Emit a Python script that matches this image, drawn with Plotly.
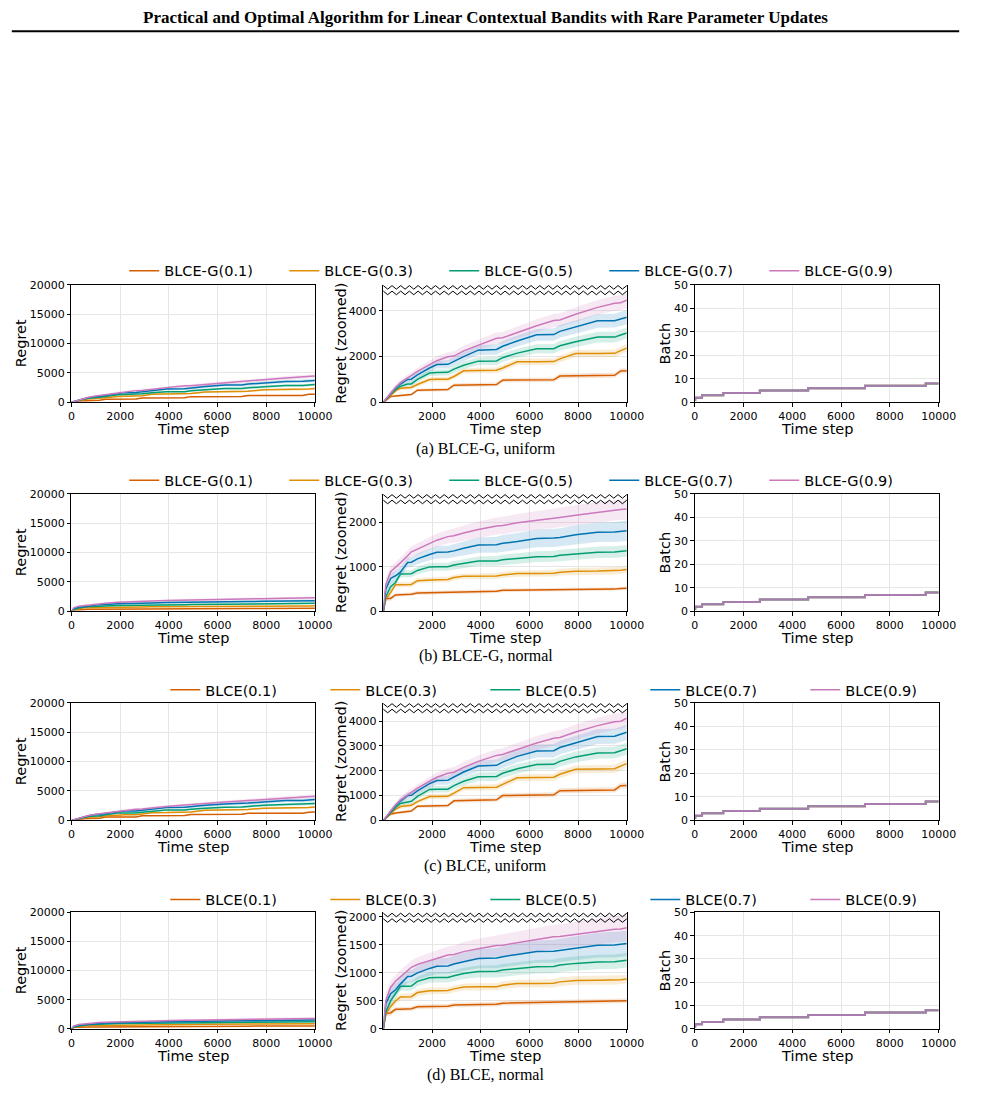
import plotly.graph_objects as go

W, H = 985, 1116

# ---------------- data ----------------
T = [0, 100, 300, 500, 700, 1000, 1150, 1400, 1900, 2200, 2650, 2900, 3300,
     3900, 4650, 4900, 5500, 6300, 7000, 7250, 7900, 8800, 9500, 9750, 10000]

PARAMS = ["0.1", "0.3", "0.5", "0.7", "0.9"]
COLORS = ["#d55e00", "#de8f05", "#029e73", "#0173b2", "#cc78bc"]

# (a) BLCE-G, uniform
REGRET_A = [
    [0, 90, 250, 280, 300, 320, 340, 530, 540, 545, 560, 750, 755, 765, 780, 970, 975, 980, 985, 1150, 1155, 1165, 1180, 1370, 1375],
    [0, 100, 300, 500, 620, 635, 650, 780, 1000, 1005, 1010, 1130, 1380, 1390, 1400, 1500, 1770, 1775, 1780, 1900, 2130, 2135, 2140, 2260, 2370],
    [0, 120, 350, 550, 700, 800, 805, 1000, 1280, 1300, 1310, 1450, 1620, 1800, 1810, 1950, 2150, 2340, 2340, 2470, 2650, 2850, 2850, 2940, 3030],
    [0, 130, 400, 620, 800, 1000, 1010, 1200, 1500, 1650, 1660, 1800, 2000, 2280, 2310, 2450, 2680, 2950, 2960, 3100, 3300, 3560, 3570, 3650, 3720],
    [0, 140, 420, 650, 850, 1080, 1160, 1350, 1650, 1820, 1990, 2020, 2250, 2500, 2800, 2820, 3050, 3350, 3580, 3600, 3850, 4150, 4330, 4350, 4460],
]
# (b) BLCE-G, normal
REGRET_B = [
    [0, 290, 290, 370, 375, 380, 385, 415, 420, 420, 425, 440, 445, 448, 452, 472, 475, 478, 480, 495, 497, 499, 500, 515, 520],
    [0, 280, 420, 600, 600, 605, 605, 690, 710, 712, 715, 760, 790, 792, 795, 820, 850, 852, 855, 880, 900, 905, 910, 925, 940],
    [0, 330, 555, 650, 840, 845, 848, 920, 1000, 1002, 1005, 1040, 1080, 1130, 1135, 1160, 1190, 1230, 1235, 1260, 1290, 1330, 1335, 1348, 1360],
    [0, 500, 740, 800, 880, 1100, 1105, 1180, 1280, 1330, 1335, 1360, 1420, 1490, 1500, 1530, 1570, 1640, 1650, 1660, 1720, 1780, 1785, 1795, 1810],
    [0, 600, 890, 980, 1090, 1250, 1340, 1400, 1530, 1600, 1680, 1700, 1760, 1840, 1920, 1930, 1990, 2040, 2100, 2110, 2160, 2230, 2280, 2290, 2300],
]
# (c) BLCE, uniform
REGRET_C = [
    [0, 80, 250, 300, 320, 350, 380, 570, 580, 590, 600, 790, 800, 810, 830, 1000, 1010, 1020, 1030, 1200, 1210, 1220, 1230, 1400, 1410],
    [0, 90, 280, 450, 560, 600, 610, 760, 960, 965, 970, 1100, 1320, 1330, 1340, 1450, 1720, 1730, 1740, 1860, 2060, 2070, 2080, 2190, 2290],
    [0, 110, 330, 520, 680, 760, 770, 970, 1250, 1255, 1260, 1400, 1580, 1760, 1770, 1900, 2080, 2250, 2260, 2380, 2560, 2720, 2730, 2810, 2890],
    [0, 120, 380, 590, 780, 1000, 1010, 1190, 1480, 1610, 1620, 1750, 1950, 2190, 2220, 2350, 2580, 2800, 2810, 2940, 3130, 3380, 3390, 3470, 3550],
    [0, 130, 400, 620, 820, 1050, 1130, 1300, 1580, 1740, 1900, 1940, 2140, 2380, 2620, 2660, 2860, 3120, 3310, 3340, 3560, 3820, 3980, 4000, 4120],
]
# (d) BLCE, normal
REGRET_D = [
    [0, 280, 285, 350, 352, 355, 360, 395, 400, 402, 405, 428, 432, 436, 440, 460, 465, 468, 470, 483, 485, 488, 490, 500, 505],
    [0, 270, 400, 500, 570, 572, 575, 650, 680, 682, 685, 715, 750, 752, 755, 780, 810, 812, 815, 840, 865, 868, 870, 880, 890],
    [0, 300, 500, 620, 760, 762, 765, 850, 915, 918, 920, 950, 990, 1025, 1028, 1050, 1075, 1110, 1115, 1140, 1170, 1195, 1200, 1212, 1225],
    [0, 450, 630, 700, 800, 935, 940, 1000, 1080, 1120, 1125, 1160, 1200, 1255, 1265, 1290, 1330, 1380, 1385, 1400, 1440, 1495, 1500, 1512, 1525],
    [0, 500, 745, 850, 930, 1040, 1100, 1150, 1220, 1260, 1320, 1330, 1380, 1430, 1490, 1495, 1540, 1600, 1645, 1650, 1690, 1740, 1780, 1785, 1805],
]

SD_UNIFORM = [
    [0, 20, 40, 50, 55, 60, 60, 65, 70, 70, 75, 80, 80, 85, 90, 95, 95, 100, 100, 105, 105, 110, 110, 115, 120],
    [0, 30, 60, 70, 80, 85, 85, 90, 100, 100, 105, 110, 115, 120, 125, 130, 135, 140, 145, 150, 155, 160, 165, 170, 175],
    [0, 40, 80, 90, 100, 110, 110, 120, 130, 135, 140, 150, 160, 170, 180, 185, 190, 200, 205, 210, 220, 230, 235, 240, 245],
    [0, 50, 90, 110, 120, 130, 130, 140, 160, 170, 180, 190, 200, 215, 230, 235, 245, 260, 270, 275, 285, 300, 305, 310, 315],
    [0, 60, 100, 120, 130, 140, 145, 160, 180, 190, 200, 210, 220, 235, 250, 255, 265, 280, 290, 295, 305, 320, 325, 330, 335],
]
SD_NORMAL = [
    [0, 60, 50, 40, 40, 40, 40, 40, 40, 40, 40, 40, 40, 40, 40, 40, 40, 40, 40, 40, 40, 40, 40, 40, 40],
    [0, 80, 70, 60, 60, 60, 60, 60, 60, 60, 60, 60, 62, 64, 66, 68, 70, 72, 74, 76, 78, 80, 80, 80, 80],
    [0, 100, 90, 80, 80, 80, 80, 85, 90, 90, 90, 95, 100, 105, 110, 112, 115, 120, 122, 124, 126, 128, 130, 130, 130],
    [0, 130, 120, 110, 110, 110, 110, 120, 130, 140, 140, 150, 160, 170, 180, 185, 190, 200, 205, 210, 215, 220, 225, 225, 230],
    [0, 140, 130, 120, 120, 120, 120, 130, 140, 150, 150, 160, 170, 180, 190, 195, 200, 210, 215, 220, 225, 230, 235, 235, 240],
]

BATCH_T = [0, 20, 300, 1170, 2670, 4650, 6980, 9470, 10000]
BATCH_N = [1, 2, 3, 4, 5, 6, 7, 8, 8]

ROW_ALGO = ["BLCE-G", "BLCE-G", "BLCE", "BLCE"]
CAPTIONS = ["(a) BLCE-G, uniform", "(b) BLCE-G, normal", "(c) BLCE, uniform", "(d) BLCE, normal"]
ZOOM_TOP = [5140, 2644, 4741, 2081]
ZOOM_TICKS = [[0, 2000, 4000], [0, 1000, 2000], [0, 1000, 2000, 3000, 4000], [0, 500, 1000, 1500, 2000]]
X_TICKS = [0, 2000, 4000, 6000, 8000, 10000]
LEFT_TICKS = [0, 5000, 10000, 15000, 20000]
BATCH_TICKS = [0, 10, 20, 30, 40, 50]

REGRETS = [REGRET_A, REGRET_B, REGRET_C, REGRET_D]
SDS = [SD_UNIFORM, SD_NORMAL, SD_UNIFORM, SD_NORMAL]

# ---------------- layout geometry (pixels) ----------------
COL_X = [(69, 318), (388, 637), (706.5, 956)]
ROW_Y = [(282, 401), (493.5, 612.5), (705, 824), (917, 1035)]
LEGEND_Y = [268, 480, 692, 904]
LEGEND_X = [123, 123, 165, 165]
CAPTION_Y = [448, 658, 870, 1082]
BATCH_OPACITY = [0.45, 0.45, 0.45, 0.5, 0.75]

SANS = "DejaVu Sans"
SERIF = "Liberation Serif"


def px(x):
    return x / W


def py(y):
    return 1 - y / H


def rgba(hexc, a):
    h = hexc.lstrip("#")
    return "rgba(%d,%d,%d,%.3f)" % (int(h[0:2], 16), int(h[2:4], 16), int(h[4:6], 16), a)


fig = go.Figure()
layout = dict(
    width=W, height=H, autosize=False, margin=dict(l=0, r=0, t=0, b=0, pad=0),
    paper_bgcolor="white", plot_bgcolor="white",
    font=dict(family=SANS, color="black"),
    showlegend=True,
)
annotations = []
shapes = []

for r in range(4):
    data = REGRETS[r]
    sd = SDS[r]
    legname = "legend" if r == 0 else "legend%d" % (r + 1)
    layout[legname] = dict(
        orientation="h", x=px(LEGEND_X[r]), y=py(LEGEND_Y[r]),
        xanchor="left", yanchor="middle", entrywidth=115, entrywidthmode="pixels",
        font=dict(family=SANS, size=14.5, color="black"), bgcolor="rgba(0,0,0,0)",
        borderwidth=0, itemwidth=30, tracegroupgap=0,
    )
    for c in range(3):
        n = r * 3 + c + 1
        xa = "x" if n == 1 else "x%d" % n
        ya = "y" if n == 1 else "y%d" % n
        if c < 2:
            for i in range(5):
                y = data[i]
                s = sd[i]
                up = [a + b for a, b in zip(y, s)]
                lo = [a - b for a, b in zip(y, s)]
                fig.add_trace(go.Scatter(
                    x=T + T[::-1], y=up + lo[::-1], xaxis=xa, yaxis=ya,
                    fill="toself", fillcolor=rgba(COLORS[i], 0.16),
                    line=dict(width=0), mode="lines", hoverinfo="skip", showlegend=False))
            for i in range(5):
                fig.add_trace(go.Scatter(
                    x=T, y=data[i], xaxis=xa, yaxis=ya, mode="lines",
                    line=dict(color=COLORS[i], width=1.5),
                    name="%s(%s)" % (ROW_ALGO[r], PARAMS[i]),
                    legend=legname, showlegend=(c == 1)))
        else:
            for i in range(5):
                fig.add_trace(go.Scatter(
                    x=BATCH_T, y=BATCH_N, xaxis=xa, yaxis=ya, mode="lines",
                    line=dict(color=COLORS[i], width=2, shape="hv"), opacity=BATCH_OPACITY[i],
                    showlegend=False))

        x0, x1 = COL_X[c]
        y0, y1 = ROW_Y[r]
        xkey = "xaxis" if n == 1 else "xaxis%d" % n
        ykey = "yaxis" if n == 1 else "yaxis%d" % n
        common = dict(showline=True, linecolor="black", linewidth=1,
                      showgrid=True, gridcolor="#e6e6e6", gridwidth=1,
                      ticks="outside", ticklen=3.5, tickwidth=1, tickcolor="black",
                      tickfont=dict(family=SANS, size=11, color="black"),
                      zeroline=False, fixedrange=True)
        if c == 1:
            xt = X_TICKS[1:]
            yr = [0, ZOOM_TOP[r]]
            yt = ZOOM_TICKS[r]
        elif c == 0:
            xt = X_TICKS
            yr = [0, 20000]
            yt = LEFT_TICKS
        else:
            xt = X_TICKS
            yr = [0, 50]
            yt = BATCH_TICKS
        layout[xkey] = dict(common, domain=[px(x0), px(x1)], range=[0, 10000],
                            tickmode="array", tickvals=xt, ticktext=[str(v) for v in xt],
                            anchor=ya, mirror=(c != 1))
        layout[ykey] = dict(common, domain=[py(y1), py(y0)], range=yr,
                            tickmode="array", tickvals=yt, ticktext=[str(v) for v in yt],
                            anchor=xa, mirror=True)

        # axis titles
        annotations.append(dict(text="Time step", x=px((x0 + x1) / 2), y=py(y1 + 27),
                                xref="paper", yref="paper", showarrow=False,
                                font=dict(family=SANS, size=14.5, color="black"),
                                xanchor="center", yanchor="middle"))
        ytitle = ["Regret", "Regret (zoomed)", "Batch"][c]
        ytx = [17, 344, 676][c]
        annotations.append(dict(text=ytitle, x=px(ytx), y=py((y0 + y1) / 2),
                                xref="paper", yref="paper", showarrow=False, textangle=-90,
                                font=dict(family=SANS, size=14.5, color="black"),
                                xanchor="center", yanchor="middle"))

        if c == 1:
            # broken-axis zigzag marks at top of zoomed panel
            shapes.append(dict(type="rect", xref="paper", yref="paper",
                               x0=px(x0 + 0.5), x1=px(x1 - 0.5), y0=py(y0 + 8.5), y1=py(y0),
                               fillcolor="white", line=dict(width=0), layer="between"))
            ncyc = 28
            for yc in (y0 + 2.7, y0 + 8.3):
                pts = []
                for k in range(2 * ncyc + 1):
                    xx = x0 + (x1 - x0) * k / (2 * ncyc)
                    yy = yc + (-1.8 if k % 2 == 0 else 1.8)
                    pts.append("%s%.5f,%.5f" % ("M" if k == 0 else "L", px(xx), py(yy)))
                shapes.append(dict(type="path", xref="paper", yref="paper",
                                   path=" ".join(pts), line=dict(color="black", width=1)))

    annotations.append(dict(text=CAPTIONS[r], x=px(492.5), y=py(CAPTION_Y[r]),
                            xref="paper", yref="paper", showarrow=False,
                            font=dict(family=SERIF, size=16, color="black"),
                            xanchor="center", yanchor="middle"))

# page header
annotations.append(dict(text="<b>Practical and Optimal Algorithm for Linear Contextual Bandits with Rare Parameter Updates</b>",
                        x=px(492.5), y=py(12), xref="paper", yref="paper", showarrow=False,
                        font=dict(family=SERIF, size=17, color="black"),
                        xanchor="center", yanchor="middle"))
shapes.append(dict(type="line", xref="paper", yref="paper", x0=px(8), x1=px(977),
                   y0=py(25.5), y1=py(25.5), line=dict(color="black", width=2)))

layout["annotations"] = annotations
layout["shapes"] = shapes
fig.update_layout(**layout)

PAGE_JS = ("document.documentElement.style.margin='0';document.documentElement.style.padding='0';"
           "document.documentElement.style.overflow='hidden';"
           "document.body.style.margin='0';document.body.style.padding='0';"
           "document.body.style.overflow='hidden';")
fig.write_html("out.html", post_script=PAGE_JS)
